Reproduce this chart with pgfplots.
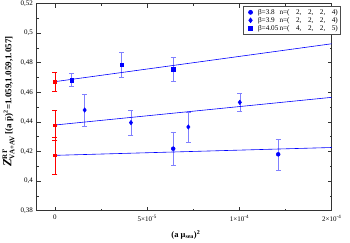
\documentclass[border=0pt]{standalone}
\usepackage{pgfplots}
\pgfplotsset{compat=1.18}
\usepackage{fontspec}
\setmainfont{Liberation Serif}
\definecolor{errblue}{RGB}{128,128,255}
\newcommand{\gsp}{\hspace{6.5pt}}
\begin{document}
\begin{tikzpicture}
\begin{axis}[
  scale only axis,
  width=295.2pt, height=207.2pt,
  xmin=-1e-5, xmax=1.5e-4,
  ymin=0.38, ymax=0.52,
  xtick={0,5e-5,1e-4,1.5e-4},
  xticklabels={0,5×10\textsuperscript{-5},1×10\textsuperscript{-4},2×10\textsuperscript{-4}},
  minor x tick num=1,
  scaled x ticks=false,
  ytick={0.38,0.40,0.42,0.44,0.46,0.48,0.50,0.52},
  minor y tick num=1,
  yticklabel style={/pgf/number format/.cd, fixed, precision=2, use comma, assume math mode=true},
  tick label style={font=\fontsize{7}{8}\selectfont},
  tick align=inside,
  major tick length=4pt, minor tick length=2pt,
  axis line style={black!80, line width=0.7pt},
  every tick/.style={black!80, line width=0.6pt},
  xticklabel style={yshift=-1pt},
  every axis x label/.style={at={(axis description cs:0.506,-0.117)},anchor=center},
  every axis y label/.style={at={(axis description cs:-0.095,0.527)},rotate=90,anchor=center},
  xlabel={\fontsize{8.5}{9}\selectfont\textbf{(a μ\textsubscript{sea})\textsuperscript{2}}},
  ylabel={\fontsize{12.5}{13}\selectfont\textbf{\textit{Z}}$^{\mbox{\fontsize{7}{8}\selectfont\textbf{RI'}}}_{\mbox{\fontsize{7}{8}\selectfont\textbf{VA+AV}}}$\,\fontsize{9}{10}\selectfont\textbf{[(a $\bar{\mbox{\textbf{p}}}$)\textsuperscript{2}=1.059,1.059,1.057]}},
  legend style={at={(0.6985,0.9894)}, anchor=north west,
     draw=black!70, line width=0.7pt, fill=white, font=\fontsize{7.2}{8}\selectfont,
     inner xsep=1pt, inner ysep=1pt, row sep=-2.6pt},
  legend cell align=left,
  legend image code/.code={\path[draw=none,fill=none] (0pt,-1pt) rectangle (12pt,1pt); \draw[#1] plot coordinates {(6.5pt,0pt)};},
  error bars/error bar style={line width=0.6pt},
]
% beta=3.8
\addplot[only marks, mark=*, mark size=2pt, color=blue,
  error bars/.cd, y dir=both, y explicit,
  error bar style={errblue}, error mark options={errblue, rotate=90, mark size=2.5pt}]
  coordinates {(6.41e-5,0.4219) +- (0,0.011) (1.21e-4,0.4181) +- (0,0.0105)};
\addlegendentry{\makebox[21.5pt][l]{β=3.8}n=(\gsp2,\gsp2,\gsp2,\gsp4)}
% beta=3.9
\addplot[only marks, mark=diamond*, mark size=2.3pt, color=blue,
  error bars/.cd, y dir=both, y explicit,
  error bar style={errblue}, error mark options={errblue, rotate=90, mark size=2.5pt}]
  coordinates {(1.61e-5,0.4480) +- (0,0.0109) (4.12e-5,0.4395) +- (0,0.0087) (7.23e-5,0.4366) +- (0,0.0101) (1.002e-4,0.4532) +- (0,0.0060)};
\addlegendentry{\makebox[21.5pt][l]{β=3.9}n=(\gsp2,\gsp2,\gsp2,\gsp4)}
% beta=4.05
\addplot[only marks, mark=square*, mark size=1.8pt, color=blue,
  error bars/.cd, y dir=both, y explicit,
  error bar style={errblue}, error mark options={errblue, rotate=90, mark size=2.5pt}]
  coordinates {(9.0e-6,0.4683) +- (0,0.0043) (3.61e-5,0.4786) +- (0,0.0083) (6.41e-5,0.4755) +- (0,0.0083)};
\addlegendentry{\makebox[21.5pt][l]{β=4.05}n=(\gsp4,\gsp2,\gsp2,\gsp5)}
% fit lines
\addplot[forget plot, blue, line width=0.6pt, no marks] coordinates {(0,0.4672) (1.5e-4,0.4928)};
\addplot[forget plot, blue, line width=0.6pt, no marks] coordinates {(0,0.4379) (1.5e-4,0.4566)};
\addplot[forget plot, blue, line width=0.6pt, no marks] coordinates {(0,0.4174) (1.5e-4,0.4227)};
% extrapolated points
\addplot[forget plot, only marks, mark=square*, mark size=1.3pt, color=red,
  error bars/.cd, y dir=both, y explicit,
  error bar style={red}, error mark options={red, rotate=90, mark size=2.5pt}]
  coordinates {(0,0.4672) +- (0,0.0065) (0,0.4379) +- (0,0.0101) (0,0.4174) +- (0,0.0126)};
\end{axis}
\pgfresetboundingbox
\path[use as bounding box] (-36.5pt,-31.3pt) rectangle (313.5pt,210.7pt);
\end{tikzpicture}
\end{document}
